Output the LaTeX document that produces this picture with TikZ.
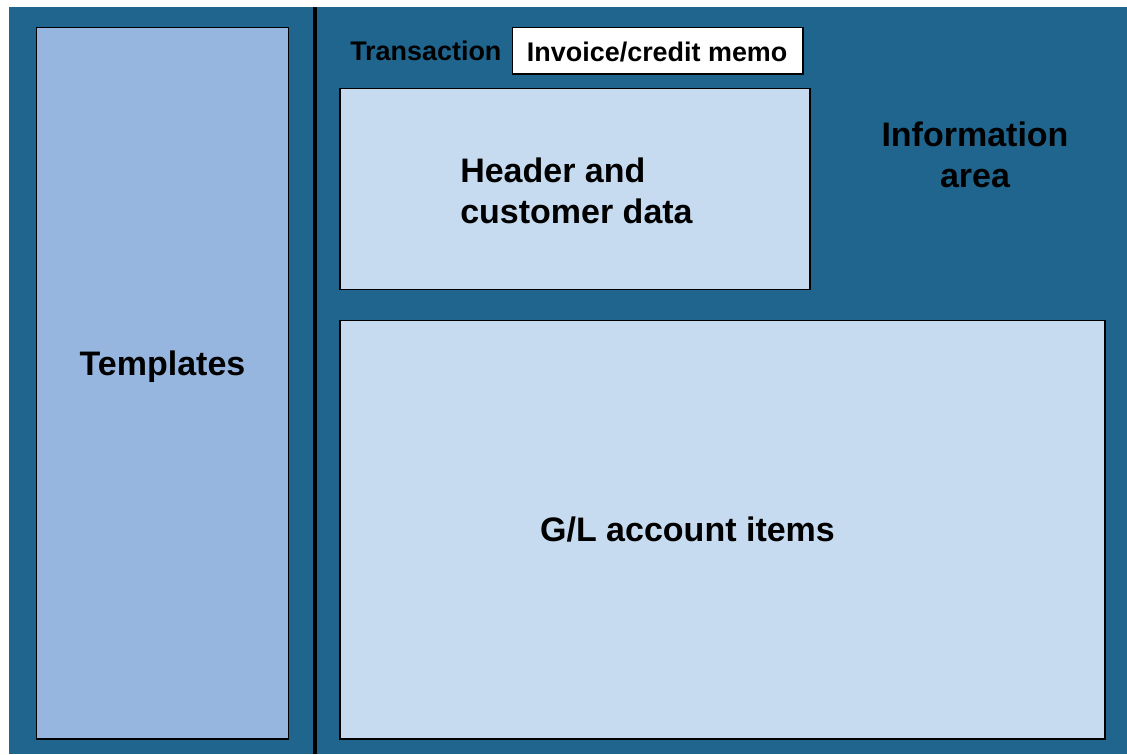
\documentclass[tikz,border=0pt]{standalone}
\usepackage{fontspec}
\setmainfont{Liberation Sans}
\definecolor{bgblue}{RGB}{31,101,142}
\definecolor{tplblue}{RGB}{151,182,223}
\definecolor{lightblue}{RGB}{198,219,240}
\begin{document}
\begin{tikzpicture}[x=0.75pt,y=-0.75pt,
  panel/.style={draw=black,line width=1.1pt,inner sep=0pt,outer sep=0pt,anchor=north west},
  bigtext/.style={inner sep=0pt,font=\fontsize{25.5}{30.75}\selectfont\bfseries},
  smalltext/.style={inner sep=0pt,font=\fontsize{20.2}{24}\selectfont\bfseries}]
\useasboundingbox (0,0) rectangle (1127,754);
\fill[bgblue] (9,7) rectangle (1127,754);
\draw[line width=3pt] (314.7,7) coordinate (dtop) -- (314.7,754) coordinate (dbot);
\node[panel,fill=tplblue,minimum width=189pt,minimum height=533.6pt] (tplbox) at (36.5,27.5) {};
\node[panel,fill=lightblue,minimum width=352.5pt,minimum height=150.75pt] (hdrbox) at (340,88.5) {};
\node[panel,fill=lightblue,minimum width=573.75pt,minimum height=313.9pt] (glbox) at (340,320.5) {};
\node[panel,fill=white,minimum width=218pt,minimum height=35pt] (invbox) at (512.3,27.3) {};
\node[bigtext,anchor=base] (templates) at (162.5,375) {Templates};
\node[bigtext,anchor=base west] (hdr1) at (460,182) {Header and};
\node[bigtext,anchor=base west] (hdr2) at (460,223) {customer data};
\node[bigtext,anchor=base] (info1) at (975,146.7) {Information};
\node[bigtext,anchor=base] (info2) at (975,187) {area};
\node[bigtext,anchor=base] (gl) at (687.5,541) {G/L account items};
\node[smalltext,anchor=base west] (trans) at (350,60.5) {Transaction};
\node[smalltext,anchor=base west] (inv) at (526.7,61.5) {Invoice/credit memo};
\end{tikzpicture}
\end{document}
